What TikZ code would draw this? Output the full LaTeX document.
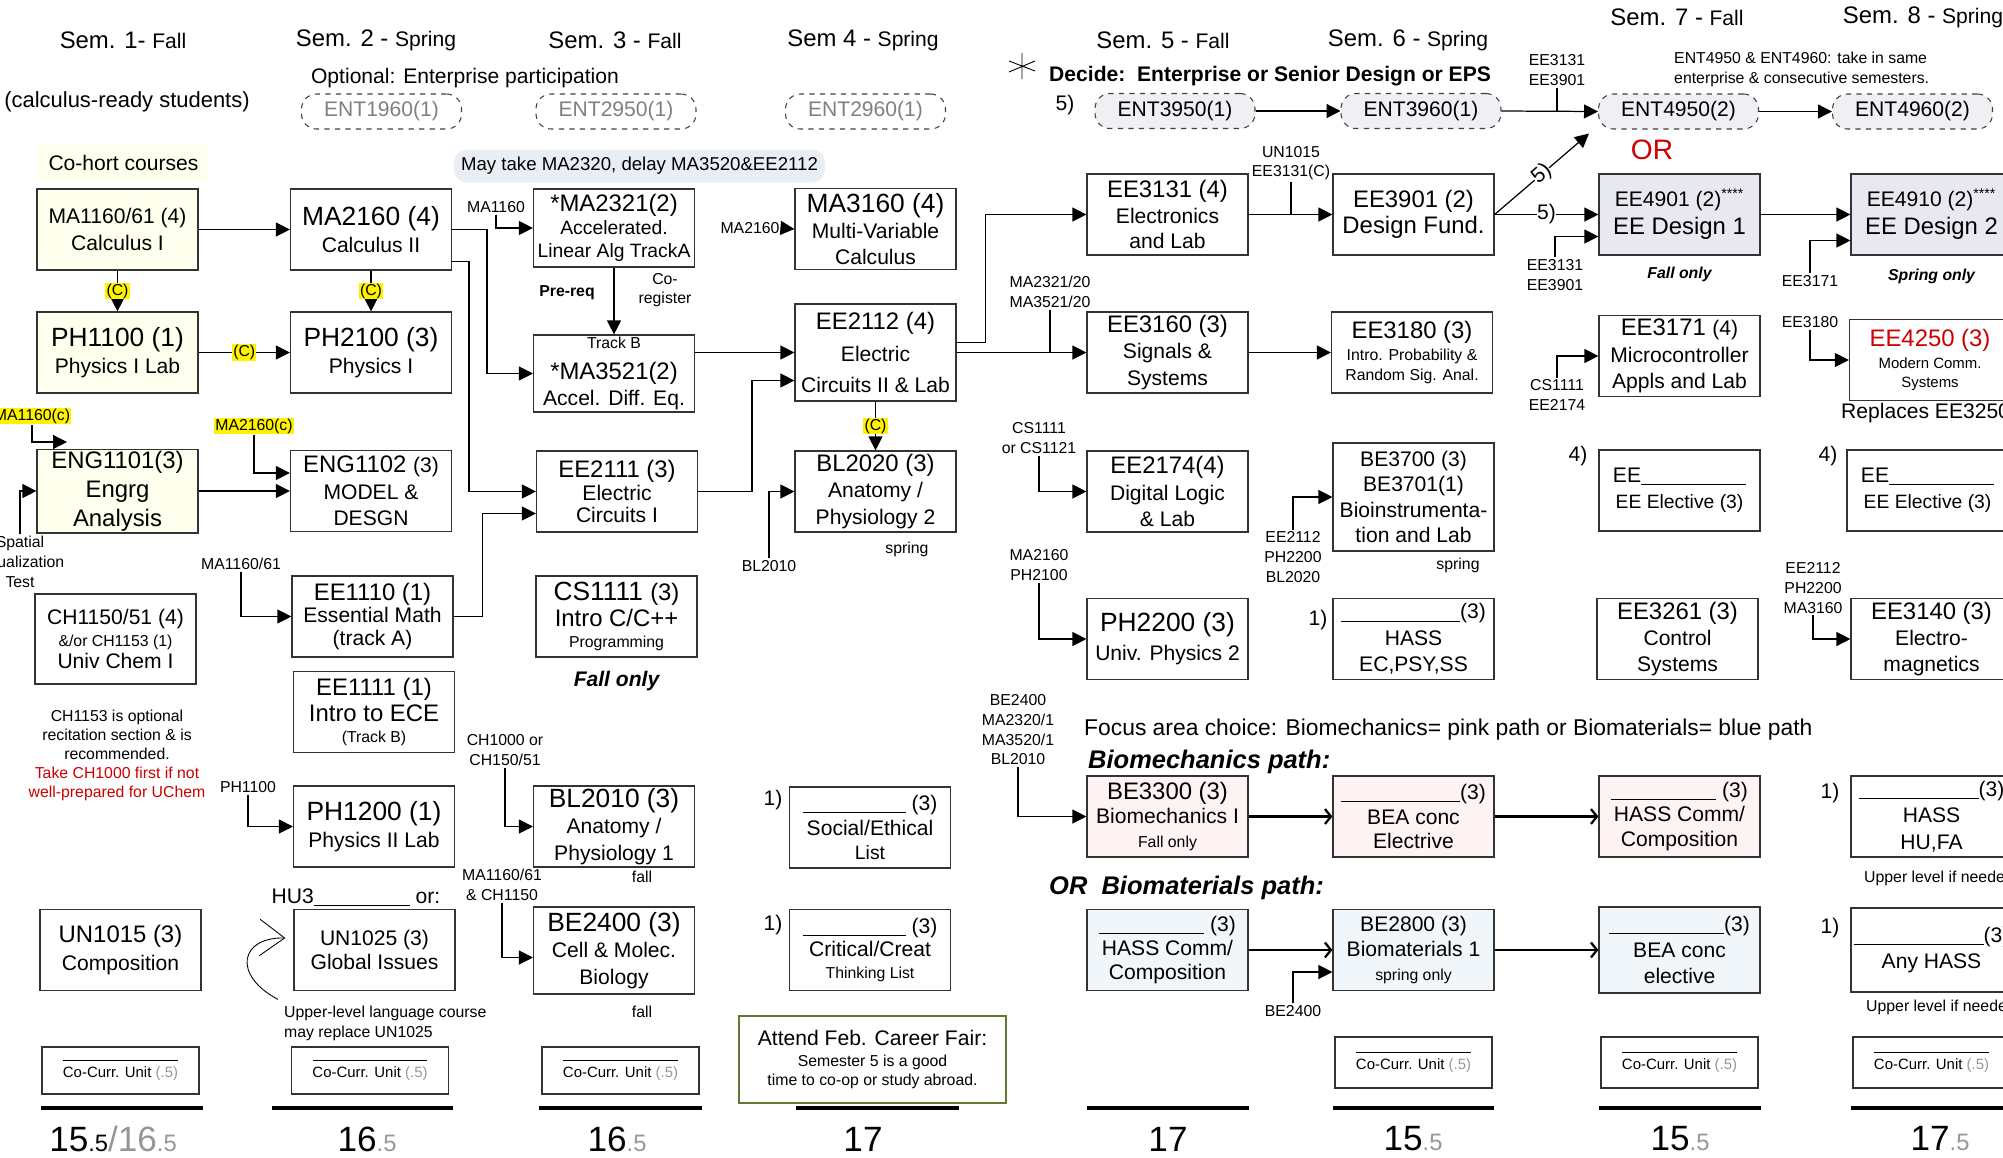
\documentclass[tikz,border=0pt]{standalone}
\usepackage{fontspec}
\setmainfont{Liberation Sans}
\usetikzlibrary{positioning, arrows.meta, calc}
\definecolor{cohort}{RGB}{255,255,238}
\definecolor{maynote}{RGB}{233,238,245}
\definecolor{entfill}{RGB}{240,240,244}
\definecolor{designfill}{RGB}{232,232,240}
\definecolor{pinkpath}{RGB}{253,243,243}
\definecolor{bluepath}{RGB}{240,246,250}
\definecolor{notered}{RGB}{204,0,0}
\definecolor{fairgreen}{RGB}{95,120,50}
\definecolor{halfgray}{RGB}{150,150,150}
\definecolor{entgray}{RGB}{128,128,128}
\newcommand\szA{\fontsize{15}{17.5}\selectfont}
\newcommand\szB{\fontsize{13.6}{16}\selectfont}
\newcommand\szC{\fontsize{12}{14.4}\selectfont}
\newcommand\szD{\fontsize{11}{13}\selectfont}
\newcommand\szE{\fontsize{9}{11}\selectfont}
\newcommand\szF{\fontsize{8.5}{10}\selectfont}
\newcommand\szT{\fontsize{20}{22}\selectfont}
\newcommand\szH{\fontsize{13.5}{15}\selectfont}
\newcommand\blankline[1]{\rule[-1.5pt]{#1}{0.6pt}}
\tikzset{
	x=0.02cm, % one unit is one pixel of the chart
	y=-0.02cm, % y counts downwards, like the chart
	>={Triangle[length=0.28cm,width=0.28cm]}, % filled arrow heads
	course/.style={draw=black!80, line width=0.7pt, minimum width=3.22cm, minimum height=1.62cm, align=center, inner sep=1pt, font=\fontsize{12}{15}\selectfont}, % a course box
	ent/.style={draw=black!75, dashed, line width=0.6pt, rounded corners=0.3cm, minimum width=3.2cm, minimum height=0.7cm, font=\szC}, % enterprise course
	lbl/.style={align=center, font=\fontsize{9}{11.2}\selectfont, inner sep=1pt}, % prerequisite names
	yel/.style={fill=yellow, inner sep=0.6pt, font=\szE}, % co-requisite mark
	note/.style={align=center, font=\fontsize{9}{10.8}\selectfont},
	arr/.style={->, line width=0.7pt},
	patharr/.style={-{Straight Barb[length=0.12cm,width=0.3cm]}, line width=1.3pt}, % focus path arrows
	cocurr/.style={draw=black!80, line width=0.7pt, minimum width=3.14cm, minimum height=0.94cm, align=center, font=\fontsize{8.5}{9.5}\selectfont},
	sumline/.style={line width=2pt},
}
\begin{document}
\begin{tikzpicture}
	\useasboundingbox (0,0) rectangle (2003,1157);
	\node (sem1) at (123,40) {\szB Sem. 1- {\szC Fall}};
	\node (sem2) at (376,40) {\szB Sem. 2 - {\szC Spring}};
	\node (sem3) at (615,40) {\szB Sem. 3 - {\szC Fall}};
	\node (sem4) at (863,40) {\szB Sem 4 - {\szC Spring}};
	\node (sem5) at (1163,40) {\szB Sem. 5 - {\szC Fall}};
	\node (sem6) at (1408,40) {\szB Sem. 6 - {\szC Spring}};
	\node (sem7) at (1677,17) {\szB Sem. 7 - {\szC Fall}};
	\node (sem8) at (1923,17) {\szB Sem. 8 - {\szC Spring}};

	\node (calcready) at (127,102) {\fontsize{12.5}{15}\selectfont (calculus-ready students)};
	\node (optional) at (465,78) {\szC Optional: Enterprise participation};
	\node[fill=cohort, minimum width=3.42cm, minimum height=0.74cm] (cohort) at (123.5,162.5) {\szC Co-hort courses};
	\node[fill=maynote, rounded corners=0.25cm, minimum width=7.42cm, minimum height=0.66cm] (maytake) at (639.5,166) {\fontsize{10.6}{12.7}\selectfont May take MA2320, delay MA3520\&EE2112};

	\node[ent, text=entgray] (ent1960) at (381.5,111.5) {ENT1960(1)};
	\node[ent, text=entgray] (ent2950) at (616,111.5) {ENT2950(1)};
	\node[ent, text=entgray] (ent2960) at (865.5,111.5) {ENT2960(1)};
	\node[ent, fill=entfill] (ent3950) at (1175,111) {ENT3950(1)};
	\node[ent, fill=entfill] (ent3960) at (1421,111) {ENT3960(1)};
	\node[ent, fill=entfill] (ent4950) at (1678.5,111.5) {ENT4950(2)};
	\node[ent, fill=entfill] (ent4960) at (1912.5,111.5) {ENT4960(2)};

	\draw[line width=0.5pt] (1009,61) -- (1035,71) (1035,61) -- (1009,72) (1022,53) -- (1022,79);
	\node[anchor=west] (decide) at (1043,76) {\szC\bfseries Decide:~~Enterprise or Senior Design or EPS};
	\node (five1) at (1065,105) {\szC 5)};
	\node[note, anchor=west, align=left, font=\fontsize{9}{11.4}\selectfont] (entnote) at (1668,69) {ENT4950 \& ENT4960: take in same\\enterprise \& consecutive semesters.};
	\node[text=notered] (orlabel) at (1652,150) {\fontsize{16}{18}\selectfont OR};

	% semester 1
	\node[course, fill=cohort] (ma1160) at (117.5,229.5) {\szC MA1160/61 (4)\\\szC Calculus I};
	\node[course, fill=cohort] (ph1100) at (117.5,352.5) {\szA PH1100 (1)\\\szC Physics I Lab};
	\node[course, fill=cohort, font=\fontsize{13.6}{16.5}\selectfont] (eng1101) at (117.5,491) {\szB ENG1101(3)\\\szB Engrg\\\szB Analysis};
	\node[course, minimum height=1.8cm, font=\fontsize{12}{12.5}\selectfont] (ch1150) at (115.5,639) {\szC CH1150/51 (4)\\\szE \&/or CH1153 (1)\\\szC Univ Chem I};
	\node[course, font=\fontsize{12}{16}\selectfont] (un1015) at (120.5,950) {\szB UN1015 (3)\\\szC Composition};
	\node[note] (chnote) at (117,755) {CH1153 is optional\\recitation section \& is\\recommended.\\\textcolor{notered}{Take CH1000 first if not}\\\textcolor{notered}{well-prepared for UChem}};

	% semester 2
	\node[course] (ma2160) at (371,229.5) {\szA MA2160 (4)\\\szC Calculus II};
	\node[course] (ph2100) at (371,352.5) {\szA PH2100 (3)\\\szC Physics I};
	\node[course] (eng1102) at (371,491) {\szB ENG1102 {\szC (3)}\\\szC MODEL \&\\\szC DESGN};
	\node[course, font=\fontsize{12}{13}\selectfont] (ee1110) at (372.5,616.5) {\szB EE1110 (1)\\\szC Essential Math\\\szC (track A)};
	\node[course] (ee1111) at (374,712) {\szB EE1111 (1)\\\szB Intro to ECE\\[-3pt]\szE (Track B)};
	\node[course] (ph1200) at (374,826.5) {\szA PH1200 (1)\\\szC Physics II Lab};
	\node (hu3) at (356,897) {\szC HU3\blankline{1.92cm} or:};
	\node[course, font=\fontsize{12}{14}\selectfont] (un1025) at (374.5,950) {\szC UN1025 (3)\\\szC Global Issues};
	\node[note, anchor=west, align=left, font=\fontsize{9}{11.4}\selectfont] (upperlang) at (278,1023) {Upper-level language course\\may replace UN1025};

	% semester 3
	\node[course, minimum height=1.56cm, font=\fontsize{12}{13}\selectfont] (ma2321) at (614,228) {\szB *MA2321(2)\\\szD Accelerated.\\\szD Linear Alg TrackA};
	\node[course, minimum height=1.54cm] (ma3521) at (614,373.5) {\szE Track B\\[2.6pt]\szB *MA3521(2)\\\szC Accel. Diff. Eq.};
	\node (prereq) at (567,293) {\szE\bfseries Pre-req};
	\node[note] (coreg) at (665,290) {Co-\\register};
	\node[course, font=\fontsize{12}{12.8}\selectfont] (ee2111) at (617,491.5) {\szB EE2111 (3)\\\szC Electric\\\szC Circuits I};
	\node[course] (cs1111) at (616.5,616.5) {\szA CS1111 {\szB (3)}\\\szB Intro C/C++\\[-3pt]\szE Programming};
	\node[below=4pt of cs1111] (fall3) {\szC\bfseries\itshape Fall only};
	\node[course] (bl2010) at (614,826.5) {\szA BL2010 (3)\\\szC Anatomy /\\\szC Physiology 1};
	\node (fall3a) at (642,877) {\szE fall};
	\node[course, minimum height=1.74cm] (be2400) at (614,950.5) {\szA BE2400 (3)\\\szC Cell \& Molec.\\\szC Biology};
	\node (fall3b) at (642,1012) {\szE fall};

	% semester 4
	\node[course] (ma3160) at (875.5,229) {\szA MA3160 (4)\\\szC Multi-Variable\\\szC Calculus};
	\node[course, minimum height=1.94cm] (ee2112) at (875.5,352.5) {\szB EE2112 (4)\\[3pt]\szC Electric\\[3pt]\szC Circuits II \& Lab};
	\node[course] (bl2020) at (875.5,491.5) {\szB BL2020 (3)\\\szC Anatomy /\\\szC Physiology 2};
	\node (spring4) at (907,549) {\szE spring};
	\node[course, font=\fontsize{12}{14}\selectfont] (social) at (870,827.5) {\szC\blankline{2.06cm} (3)\\\szC Social/Ethical\\\szD List};
	\node (one4a) at (773,800) {\szC 1)};
	\node[course, font=\fontsize{12}{13}\selectfont] (critical) at (870,950) {\szC\blankline{2.06cm} (3)\\\szC Critical/Creat\\\szE Thinking List};
	\node (one4b) at (773,925) {\szC 1)};
	\node[course, draw=fairgreen, line width=1pt, minimum width=5.34cm, minimum height=1.74cm, font=\fontsize{12}{11}\selectfont] (fair) at (872.5,1059.5) {\szC Attend Feb. Career Fair:\\[1pt]\szE Semester 5 is a good\\\szE time to co-op or study abroad.};

	% semester 5
	\node[course, font=\fontsize{12}{14.6}\selectfont] (ee3131) at (1167.5,214.5) {\szB EE3131 (4)\\\szC Electronics\\\szC and Lab};
	\node[course] (ee3160) at (1167.5,352.5) {\szB EE3160 (3)\\\szC Signals \&\\\szC Systems};
	\node[course] (ee2174) at (1167.5,491.5) {\szB EE2174(4)\\\szC Digital Logic\\\szC \& Lab};
	\node[course, font=\fontsize{12}{16.5}\selectfont] (ph2200) at (1167.5,639) {\szA PH2200 (3)\\\szC Univ. Physics 2};
	\node[anchor=west] (focus) at (1078,730) {\fontsize{13}{15}\selectfont Focus area choice: Biomechanics= pink path or Biomaterials= blue path};
	\node[anchor=west] (biomech) at (1082,762) {\fontsize{14.5}{16}\selectfont\bfseries\itshape Biomechanics path:};
	\node[course, fill=pinkpath, font=\fontsize{12}{13.5}\selectfont] (be3300) at (1167.5,816.5) {\szB BE3300 (3)\\\szC Biomechanics I\\\szE Fall only};
	\node[anchor=west] (biomat) at (1043,888) {\fontsize{14.5}{16}\selectfont\bfseries\itshape OR~~Biomaterials path:};
	\node[course, fill=bluepath, font=\fontsize{12}{13.5}\selectfont] (hassblue) at (1167.5,950) {\szC\blankline{2.1cm} (3)\\\szC HASS Comm/\\\szC Composition};

	% semester 6
	\node[course] (ee3901) at (1413.5,214.5) {\szB EE3901 (2)\\\szB Design Fund.};
	\node[course, font=\fontsize{12}{11}\selectfont] (ee3180) at (1412,352.5) {\szB EE3180 (3)\\[1.5pt]\szE Intro. Probability \&\\\szE Random Sig. Anal.};
	\node[course, minimum height=2.16cm, font=\fontsize{12}{14.5}\selectfont] (be3700) at (1413.5,497) {\szC BE3700 (3)\\\szC BE3701(1)\\\szC Bioinstrumenta-\\\szC tion and Lab};
	\node (spring6) at (1458,565) {\szE spring};
	\node[course] (hass) at (1413.5,639) {\szC\blankline{2.38cm}(3)\\\szC HASS\\\szC EC,PSY,SS};
	\node (one6) at (1318,620) {\szC 1)};
	\node[course, fill=pinkpath, font=\fontsize{12}{14}\selectfont] (beapink) at (1413.5,816.5) {\szC\blankline{2.38cm}(3)\\\szC BEA conc\\\szC Electrive};
	\node[course, fill=bluepath, font=\fontsize{12}{14.2}\selectfont] (be2800) at (1413.5,950) {\szC BE2800 (3)\\\szC Biomaterials 1\\\szE spring only};

	% semester 7
	\node[course, fill=designfill, font=\fontsize{12}{16}\selectfont] (ee4901) at (1679.5,214.5) {\szC EE4901 (2)\textsuperscript{****}\\\szB EE Design 1};
	\node[below=3pt of ee4901] (fall7) {\szE\bfseries\itshape Fall only};
	\node[course] (ee3171) at (1679.5,356) {\szB EE3171 {\szC (4)}\\\szC Microcontroller\\\szC Appls and Lab};
	\node[course] (eeelec7) at (1679.5,490.5) {\szC EE\blankline{2.1cm}\\\szD EE Elective (3)};
	\node (four7) at (1578,456) {\szC 4)};
	\node[course] (ee3261) at (1677.5,639) {\szB EE3261 (3)\\\szC Control\\\szC Systems};
	\node[course, fill=pinkpath, font=\fontsize{12}{14}\selectfont] (hasspink) at (1679.5,816.5) {\szC\blankline{2.1cm} (3)\\\szC HASS Comm/\\\szC Composition};
	\node[course, fill=bluepath, minimum height=1.72cm] (beablue) at (1679.5,950) {\szC\blankline{2.3cm}(3)\\\szC BEA conc\\\szC elective};

	% semester 8
	\node[course, fill=designfill, font=\fontsize{12}{16}\selectfont] (ee4910) at (1931.5,214.5) {\szC EE4910 (2)\textsuperscript{****}\\\szB EE Design 2};
	\node[below=4pt of ee4910] (spring8) {\szE\bfseries\itshape Spring only};
	\node[course, font=\fontsize{12}{10.5}\selectfont] (ee4250) at (1930,360) {\textcolor{notered}{\szB EE4250 (3)}\\[2pt]\szF Modern Comm.\\\szF Systems};
	\node[anchor=west] (replaces) at (1835,413) {\szC Replaces EE3250};
	\node[course] (eeelec8) at (1927.5,490.5) {\szC EE\blankline{2.1cm}\\\szD EE Elective (3)};
	\node (four8) at (1828,456) {\szC 4)};
	\node[course] (ee3140) at (1931.5,639) {\szB EE3140 (3)\\\szC Electro-\\\szC magnetics};
	\node[course] (hasshu) at (1931.5,816.5) {\szC\blankline{2.4cm}(3)\\\szC HASS\\\szC HU,FA};
	\node (one8a) at (1830,793) {\szC 1)};
	\node[anchor=west] (upper1) at (1858,878) {\szE Upper level if needed};
	\node[course, minimum height=1.68cm] (anyhass) at (1931.5,950) {\szC\blankline{2.6cm}(3)\\\szC Any HASS};
	\node (one8b) at (1830,928) {\szC 1)};
	\node[anchor=west] (upper2) at (1860,1007) {\szE Upper level if needed};

	% co-curricular units and totals
	\node[cocurr] (cc1) at (120.5,1070.5) {\rule{2.3cm}{0.5pt}\\Co-Curr. Unit \textcolor{halfgray}{(.5)}};
	\node[cocurr] (cc2) at (370,1070.5) {\rule{2.3cm}{0.5pt}\\Co-Curr. Unit \textcolor{halfgray}{(.5)}};
	\node[cocurr] (cc3) at (620.5,1070.5) {\rule{2.3cm}{0.5pt}\\Co-Curr. Unit \textcolor{halfgray}{(.5)}};
	\node[cocurr, minimum height=1.02cm] (cc6) at (1413.5,1062.5) {\rule{2.3cm}{0.5pt}\\Co-Curr. Unit \textcolor{halfgray}{(.5)}};
	\node[cocurr, minimum height=1.02cm] (cc7) at (1679.5,1062.5) {\rule{2.3cm}{0.5pt}\\Co-Curr. Unit \textcolor{halfgray}{(.5)}};
	\node[cocurr, minimum height=1.02cm] (cc8) at (1931.5,1062.5) {\rule{2.3cm}{0.5pt}\\Co-Curr. Unit \textcolor{halfgray}{(.5)}};
	\draw[sumline] (41,1108) -- (203,1108) (272,1108) -- (453,1108) (539,1108) -- (702,1108) (796,1108) -- (959,1108)
		(1087,1108) -- (1249,1108) (1333,1108) -- (1494,1108) (1599,1108) -- (1761,1108) (1851,1108) -- (2010,1108);
	\node (tot1) at (113,1139) {\szT 15\szH .5\color{halfgray}\szT /16\szH .5};
	\node (tot2) at (367,1139) {\szT 16\color{halfgray}\szH .5};
	\node (tot3) at (617,1139) {\szT 16\color{halfgray}\szH .5};
	\node (tot4) at (863,1139) {\szT 17};
	\node (tot5) at (1168,1139) {\szT 17};
	\node (tot6) at (1413,1139) {\szT 15\color{halfgray}\szH .5};
	\node (tot7) at (1680,1139) {\szT 15\color{halfgray}\szH .5};
	\node (tot8) at (1940,1139) {\szT 17\color{halfgray}\szH .5};

	% prerequisite labels
	\node[lbl] (lblma1160) at (496,207) {MA1160};
	\node[lbl] (lblma2160) at (750,228) {MA2160};
	\node[lbl] (lblma2321) at (1050,292) {MA2321/20\\MA3521/20};
	\node[lbl] (lblun1015) at (1291,163) {UN1015\\EE3131(C)};
	\node[lbl] (lblee3131a) at (1557,70) {EE3131\\EE3901};
	\node[lbl] (lblee3131b) at (1555,275) {EE3131\\EE3901};
	\node[lbl] (lblee3171) at (1810,281) {EE3171};
	\node[lbl] (lblcs2174) at (1557,395) {CS1111\\EE2174};
	\node[lbl] (lblee3180) at (1810,322) {EE3180};
	\node[yel] (lblma1160c) at (32,416) {MA1160(c)};
	\coordinate (engtop) at (67,442);
	\node[lbl] (lblspatial) at (20,562) {Spatial\\Visualization\\Test};
	\node[yel] (lblma2160c) at (254,426) {MA2160(c)};
	\node[lbl] (lblma1160b) at (241,564) {MA1160/61};
	\node[lbl] (lblbl2010) at (769,566) {BL2010};
	\node[lbl] (lblcs1111) at (1039,438) {CS1111\\or CS1121};
	\node[lbl] (lblma2160b) at (1039,565) {MA2160\\PH2100};
	\node[lbl] (lblee2112a) at (1293,557) {EE2112\\PH2200\\BL2020};
	\node[lbl] (lblee2112b) at (1813,588) {EE2112\\PH2200\\MA3160};
	\node[lbl] (lblph1100) at (248,787) {PH1100};
	\node[lbl] (lblch1000) at (505,750) {CH1000 or\\CH150/51};
	\node[lbl] (lblma1160d) at (502,885) {MA1160/61\\\& CH1150};
	\node[lbl] (lblbe2400) at (1018,730) {BE2400\\MA2320/1\\MA3520/1\\BL2010};
	\node[lbl] (lblbe2400b) at (1293,1011) {BE2400};

	% connectors
	\draw[arr] (ma1160.east) -- (ma2160.west);
	\draw[arr] (ma1160.south) -- node[yel]{(C)} (ph1100.north);
	\draw[arr] (ma2160.south) -- node[yel]{(C)} (ph2100.north);
	\draw[arr] (ph1100.east) -- node[yel]{(C)} (ph2100.west);
	\draw[arr] (ma2160.east) -- ++(35,0) |- (ma3521.west);
	\draw[arr] ($(ma2160.east)+(0,32)$) -- ++(17,0) |- (ee2111.west);
	\draw[arr] (ee1110.east) -- ++(29,0) |- ($(ee2111.west)+(0,22)$);
	\draw[arr] (lblma1160.south) |- (ma2321.west);
	\draw[arr] (ma2321.south) -- (ma3521.north);
	\draw[arr] (lblma2160.east) -- (ma3160.west);
	\draw[arr] (ma3521.east |- ee2112.west) -- (ee2112.west);
	\draw[arr] (ee2111.east) -- ++(54,0) |- ($(ee2112.west)+(0,28)$);
	\draw[arr] ($(ee2112.east)+(0,-10)$) -- ++(29,0) |- (ee3131.west);
	\draw[arr] (ee2112.east) -- (ee3160.west);
	\draw[line width=0.7pt] (lblma2321.south) -- (lblma2321.south |- ee3160.west);
	\draw[arr] (ee3131.east) -- (ee3901.west);
	\draw[line width=0.7pt] (lblun1015.south) -- (lblun1015.south |- ee3901.west);
	\draw[arr] (ee3160.east) -- (ee3180.west);
	\draw[arr] (ent3950.east) -- (ent3960.west);
	\draw[arr] (ent3960.east) -- (ent4950.west);
	\draw[arr] (ent4950.east) -- (ent4960.west);
	\draw[line width=0.7pt] (lblee3131a.south) -- (lblee3131a.south |- ent4950.west);
	\draw[arr] (ee3901.east) -- node[sloped, fill=white, inner sep=0pt, font=\szC]{5)} ($(ent4950.south west)+(-9,4)$);
	\draw[arr] (ee3901.east) -- node[fill=white, inner sep=0pt, font=\szC]{5)} (ee4901.west);
	\draw[arr] (lblee3131b.north) |- ($(ee4901.west)+(0,22)$);
	\draw[arr] (ee4901.east) -- (ee4910.west);
	\draw[arr] (lblee3171.north) |- ($(ee4910.west)+(0,26)$);
	\draw[arr] (lblcs2174.north) |- (ee3171.west);
	\draw[arr] (lblee3180.south) |- (ee4250.west);
	\draw[arr] (lblma1160c.south) |- (engtop);
	\draw[arr] (lblspatial.north) |- (eng1101.west);
	\draw[arr] (eng1101.east) -- (eng1102.west);
	\draw[arr] (lblma2160c.south) |- ($(eng1102.west)+(0,-18)$);
	\draw[arr] (lblma1160b.south) |- (ee1110.west);
	\draw[arr] (ee2112.south) -- node[yel]{(C)} (bl2020.north);
	\draw[arr] (lblbl2010.north) |- (bl2020.west);
	\draw[arr] (lblcs1111.south) |- (ee2174.west);
	\draw[arr] (lblma2160b.south) |- (ph2200.west);
	\draw[arr] (lblee2112a.north) |- (be3700.west);
	\draw[arr] (lblee2112b.south) |- (ee3140.west);
	\draw[arr] (lblph1100.south) |- (ph1200.west);
	\draw[arr] (lblch1000.south) |- (bl2010.west);
	\draw[arr] (lblma1160d.south) |- ($(be2400.west)+(0,7)$);
	\draw[arr] (lblbe2400.south) |- (be3300.west);
	\draw[arr] (lblbe2400b.north) |- ($(be2800.west)+(0,22)$);
	\draw[patharr] (be3300.east) -- (beapink.west);
	\draw[patharr] (beapink.east) -- (hasspink.west);
	\draw[patharr] (hassblue.east) -- (be2800.west);
	\draw[patharr] (be2800.east) -- (beablue.west);
	\draw[-{Straight Barb[length=0.5cm,width=0.73cm]}, line width=0.5pt] (upperlang.north west) .. controls (232,975) and (240,937) .. ($(un1025.west)+(-8,-12)$);
\end{tikzpicture}
\end{document}
